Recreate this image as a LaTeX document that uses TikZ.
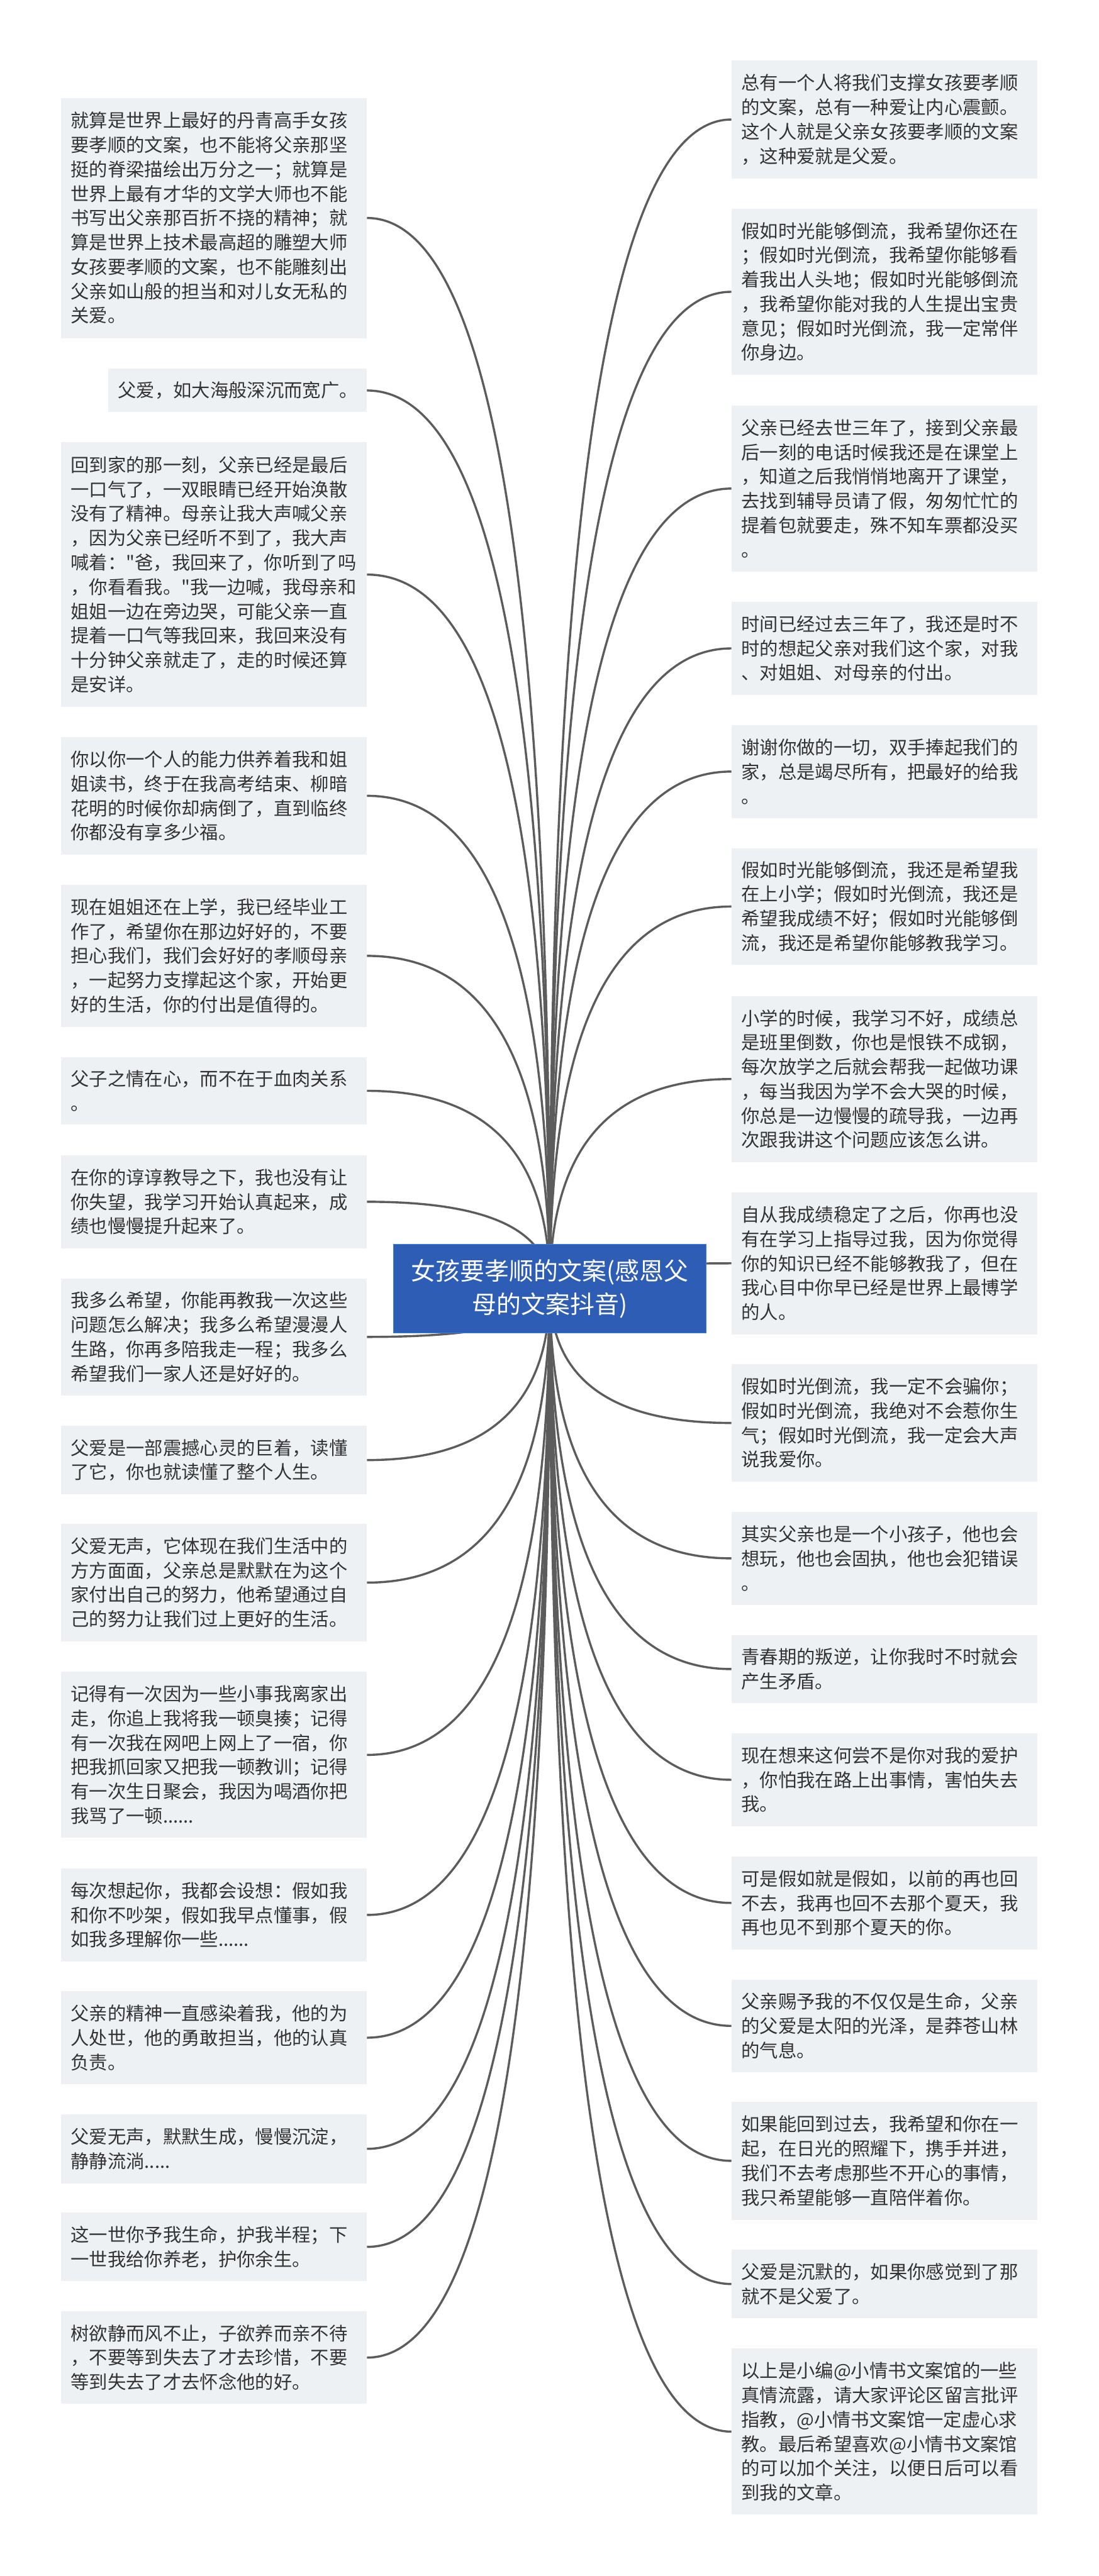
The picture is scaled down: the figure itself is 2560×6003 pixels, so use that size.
\documentclass[tikz,border=0pt]{standalone}
\usepackage{fontspec}
\newfontfamily\cjk{Noto Sans CJK SC}
\usetikzlibrary{calc}
\definecolor{leaffill}{HTML}{EEF1F4}
\definecolor{leaftext}{HTML}{333333}
\definecolor{rootfill}{HTML}{2D5DB4}
\definecolor{rootline}{HTML}{3E7FE3}
\definecolor{linkcol}{HTML}{5C5C5C}

\tikzset{
  leaf/.style={fill=leaffill, text=leaftext, font={\cjk\fontsize{43}{56.8}\selectfont},
               align=left, text width=667pt, inner xsep=23pt, inner ysep=0pt},
  leafL/.style={leaf, anchor=east},
  leafR/.style={leaf, anchor=west},
  topic/.style={fill=rootfill, draw=rootline, line width=2pt, text=white,
                font={\cjk\fontsize{57}{78}\selectfont}, align=center,
                minimum width=728pt, minimum height=206pt},
  branch/.style={draw=linkcol, line width=5pt},
}

\begin{document}
\begin{tikzpicture}[x=1pt, y=-1pt]
  \fill[white] (0,0) rectangle (2560,6003);
  \coordinate (hub) at (1281,3003);

  % left column
  \node[leafL, minimum height=560pt] (L1) at (855,508) {就算是世界上最好的丹青高手女孩\\要孝顺的文案，也不能将父亲那坚\\挺的脊梁描绘出万分之一；就算是\\世界上最有才华的文学大师也不能\\书写出父亲那百折不挠的精神；就\\算是世界上技术最高超的雕塑大师\\女孩要孝顺的文案，也不能雕刻出\\父亲如山般的担当和对儿女无私的\\关爱。};
  \node[leafL, text width=557pt, minimum height=101pt] (L2) at (855,910) {父爱，如大海般深沉而宽广。};
  \node[leafL, minimum height=616pt] (L3) at (855,1339) {回到家的那一刻，父亲已经是最后\\一口气了，一双眼睛已经开始涣散\\没有了精神。母亲让我大声喊父亲\\，因为父亲已经听不到了，我大声\\喊着："爸，我回来了，你听到了吗\\，你看看我。"我一边喊，我母亲和\\姐姐一边在旁边哭，可能父亲一直\\提着一口气等我回来，我回来没有\\十分钟父亲就走了，走的时候还算\\是安详。};
  \node[leafL, minimum height=275pt] (L4) at (855,1854.5) {你以你一个人的能力供养着我和姐\\姐读书，终于在我高考结束、柳暗\\花明的时候你却病倒了，直到临终\\你都没有享多少福。};
  \node[leafL, minimum height=331pt] (L5) at (855,2227.5) {现在姐姐还在上学，我已经毕业工\\作了，希望你在那边好好的，不要\\担心我们，我们会好好的孝顺母亲\\，一起努力支撑起这个家，开始更\\好的生活，你的付出是值得的。};
  \node[leafL, minimum height=158pt] (L6) at (855,2542) {父子之情在心，而不在于血肉关系\\。};
  \node[leafL, minimum height=217pt] (L7) at (855,2800.5) {在你的谆谆教导之下，我也没有让\\你失望，我学习开始认真起来，成\\绩也慢慢提升起来了。};
  \node[leafL, minimum height=273pt] (L8) at (855,3115.5) {我多么希望，你能再教我一次这些\\问题怎么解决；我多么希望漫漫人\\生路，你再多陪我走一程；我多么\\希望我们一家人还是好好的。};
  \node[leafL, minimum height=159pt] (L9) at (855,3402.5) {父爱是一部震撼心灵的巨着，读懂\\了它，你也就读懂了整个人生。};
  \node[leafL, minimum height=274pt] (L10) at (855,3688) {父爱无声，它体现在我们生活中的\\方方面面，父亲总是默默在为这个\\家付出自己的努力，他希望通过自\\己的努力让我们过上更好的生活。};
  \node[leafL, minimum height=387pt] (L11) at (855,4089.5) {记得有一次因为一些小事我离家出\\走，你追上我将我一顿臭揍；记得\\有一次我在网吧上网上了一宿，你\\把我抓回家又把我一顿教训；记得\\有一次生日聚会，我因为喝酒你把\\我骂了一顿......};
  \node[leafL, minimum height=217pt] (L12) at (855,4462.5) {每次想起你，我都会设想：假如我\\和你不吵架，假如我早点懂事，假\\如我多理解你一些......};
  \node[leafL, minimum height=217pt] (L13) at (855,4748.5) {父亲的精神一直感染着我，他的为\\人处世，他的勇敢担当，他的认真\\负责。};
  \node[leafL, minimum height=161pt] (L14) at (855,5007.5) {父爱无声，默默生成，慢慢沉淀，\\静静流淌.....};
  \node[leafL, minimum height=160pt] (L15) at (855,5236) {这一世你予我生命，护我半程；下\\一世我给你养老，护你余生。};
  \node[leafL, minimum height=216pt] (L16) at (855,5494) {树欲静而风不止，子欲养而亲不待\\，不要等到失去了才去珍惜，不要\\等到失去了才去怀念他的好。};

  % right column
  \node[leafR, minimum height=275pt] (R1) at (1704,278.5) {总有一个人将我们支撑女孩要孝顺\\的文案，总有一种爱让内心震颤。\\这个人就是父亲女孩要孝顺的文案\\，这种爱就是父爱。};
  \node[leafR, minimum height=386pt] (R2) at (1704,680) {假如时光能够倒流，我希望你还在\\；假如时光倒流，我希望你能够看\\着我出人头地；假如时光能够倒流\\，我希望你能对我的人生提出宝贵\\意见；假如时光倒流，我一定常伴\\你身边。};
  \node[leafR, minimum height=387pt] (R3) at (1704,1138.5) {父亲已经去世三年了，接到父亲最\\后一刻的电话时候我还是在课堂上\\，知道之后我悄悄地离开了课堂，\\去找到辅导员请了假，匆匆忙忙的\\提着包就要走，殊不知车票都没买\\。};
  \node[leafR, minimum height=216pt] (R4) at (1704,1511) {时间已经过去三年了，我还是时不\\时的想起父亲对我们这个家，对我\\、对姐姐、对母亲的付出。};
  \node[leafR, minimum height=216pt] (R5) at (1704,1798) {谢谢你做的一切，双手捧起我们的\\家，总是竭尽所有，把最好的给我\\。};
  \node[leafR, minimum height=271pt] (R6) at (1704,2112.5) {假如时光能够倒流，我还是希望我\\在上小学；假如时光倒流，我还是\\希望我成绩不好；假如时光能够倒\\流，我还是希望你能够教我学习。};
  \node[leafR, minimum height=387pt] (R7) at (1704,2514.5) {小学的时候，我学习不好，成绩总\\是班里倒数，你也是恨铁不成钢，\\每次放学之后就会帮我一起做功课\\，每当我因为学不会大哭的时候，\\你总是一边慢慢的疏导我，一边再\\次跟我讲这个问题应该怎么讲。};
  \node[leafR, minimum height=332pt] (R8) at (1704,2944) {自从我成绩稳定了之后，你再也没\\有在学习上指导过我，因为你觉得\\你的知识已经不能够教我了，但在\\我心目中你早已经是世界上最博学\\的人。};
  \node[leafR, minimum height=274pt] (R9) at (1704,3316) {假如时光倒流，我一定不会骗你；\\假如时光倒流，我绝对不会惹你生\\气；假如时光倒流，我一定会大声\\说我爱你。};
  \node[leafR, minimum height=217pt] (R10) at (1704,3631.5) {其实父亲也是一个小孩子，他也会\\想玩，他也会固执，他也会犯错误\\。};
  \node[leafR, minimum height=159pt] (R11) at (1704,3889.5) {青春期的叛逆，让你我时不时就会\\产生矛盾。};
  \node[leafR, minimum height=217pt] (R12) at (1704,4147.5) {现在想来这何尝不是你对我的爱护\\，你怕我在路上出事情，害怕失去\\我。};
  \node[leafR, minimum height=217pt] (R13) at (1704,4434.5) {可是假如就是假如，以前的再也回\\不去，我再也回不去那个夏天，我\\再也见不到那个夏天的你。};
  \node[leafR, minimum height=216pt] (R14) at (1704,4721) {父亲赐予我的不仅仅是生命，父亲\\的父爱是太阳的光泽，是莽苍山林\\的气息。};
  \node[leafR, minimum height=275pt] (R15) at (1704,5035.5) {如果能回到过去，我希望和你在一\\起，在日光的照耀下，携手并进，\\我们不去考虑那些不开心的事情，\\我只希望能够一直陪伴着你。};
  \node[leafR, minimum height=159pt] (R16) at (1704,5322.5) {父爱是沉默的，如果你感觉到了那\\就不是父爱了。};
  \node[leafR, minimum height=387pt] (R17) at (1704,5666.5) {以上是小编@小情书文案馆的一些\\真情流露，请大家评论区留言批评\\指教，@小情书文案馆一定虚心求\\教。最后希望喜欢@小情书文案馆\\的可以加个关注，以便日后可以看\\到我的文章。};

  % branches
  \foreach \i in {1,...,16} {
    \path (hub |- L\i.east) coordinate (k);
    \draw[branch] (hub) .. controls ($(hub)!0.67!(k)$) and ($(L\i.east)!0.67!(k)$) .. (L\i.east);
  }
  \foreach \i in {1,...,17} {
    \path (hub |- R\i.west) coordinate (k);
    \draw[branch] (hub) .. controls ($(hub)!0.67!(k)$) and ($(R\i.west)!0.67!(k)$) .. (R\i.west);
  }

  \node[topic] (root) at (hub) {女孩要孝顺的文案(感恩父\\母的文案抖音)};
\end{tikzpicture}
\end{document}
